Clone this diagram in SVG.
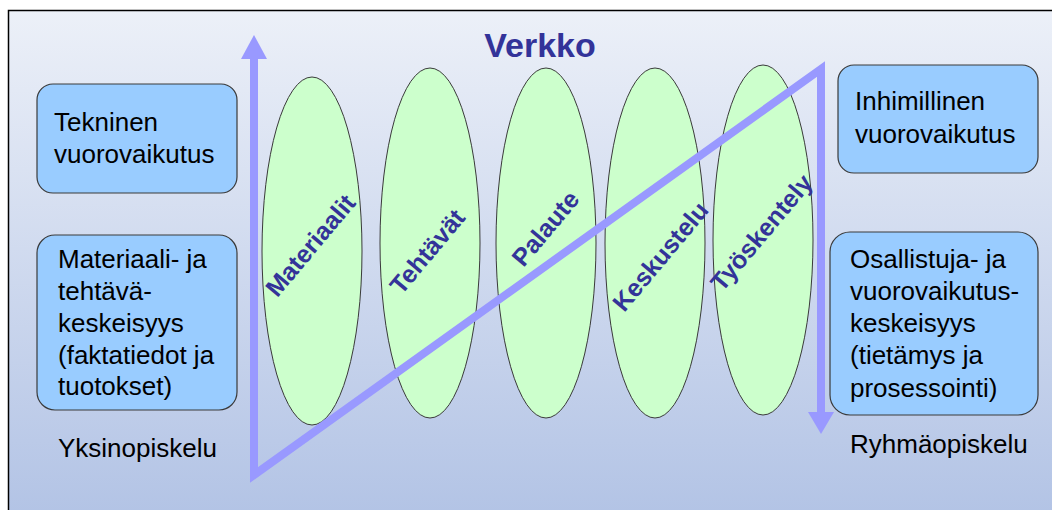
<svg xmlns="http://www.w3.org/2000/svg" width="1052" height="510" viewBox="0 0 1052 510">
<defs>
<linearGradient id="bg" x1="0" y1="0" x2="0" y2="1">
<stop offset="0" stop-color="#ECF0F8"/>
<stop offset="1" stop-color="#B2C3E5"/>
</linearGradient>
<style>
.box{fill:#99CCFF;stroke:#3A3A3A;stroke-width:1.2}
.ell{fill:#CCFFCC;stroke:#3A3A3A;stroke-width:1}
.t{font-family:"Liberation Sans",Arial,sans-serif;font-size:26px;fill:#000}
.lbl{font-family:"Liberation Sans",Arial,sans-serif;font-size:25px;font-weight:bold;fill:#333399;text-anchor:middle}
.arr{fill:#9999FF}
</style>
</defs>
<rect x="0" y="0" width="1052" height="510" fill="#FFFFFF"/>
<rect x="8.5" y="10.5" width="1050" height="510" fill="url(#bg)" stroke="#000" stroke-width="1.5"/>
<text x="540" y="57" font-family="Liberation Sans, Arial, sans-serif" font-size="34" font-weight="bold" fill="#333399" text-anchor="middle">Verkko</text>

<g id="ellipse-materiaalit"><ellipse class="ell" cx="312" cy="251" rx="50" ry="174"/></g>
<g id="ellipse-tehtavat"><ellipse class="ell" cx="430" cy="243" rx="50" ry="175"/></g>
<g id="ellipse-palaute"><ellipse class="ell" cx="546" cy="243" rx="50" ry="175"/></g>
<g id="ellipse-keskustelu"><ellipse class="ell" cx="655" cy="243" rx="50" ry="175"/></g>
<g id="ellipse-tyoskentely"><ellipse class="ell" cx="763" cy="240" rx="50" ry="175"/></g>

<g id="connectors">
<polyline points="254,58 254,475 821,69 821,413" fill="none" stroke="#9999FF" stroke-width="8" stroke-linejoin="miter"/>
<polygon class="arr" points="254,35 241,59 267,59"/>
<polygon class="arr" points="821,434 808,412 834,412"/>
</g>

<text class="lbl" transform="translate(317,251) rotate(-50)">Materiaalit</text>
<text class="lbl" transform="translate(434,257) rotate(-50)">Tehtävät</text>
<text class="lbl" transform="translate(552,234) rotate(-50)">Palaute</text>
<text class="lbl" transform="translate(667,262) rotate(-50)">Keskustelu</text>
<text class="lbl" transform="translate(768,238) rotate(-50)">Työskentely</text>

<g id="box-tekninen">
<rect class="box" x="37" y="84" width="200" height="109" rx="16"/>
<text class="t" x="54" y="131">Tekninen</text>
<text class="t" x="54" y="163">vuorovaikutus</text>
</g>
<g id="box-materiaali">
<rect class="box" x="37" y="235" width="200" height="175" rx="18"/>
<text class="t" x="58" y="268">Materiaali- ja</text>
<text class="t" x="58" y="300">tehtävä-</text>
<text class="t" x="58" y="332">keskeisyys</text>
<text class="t" x="58" y="364">(faktatiedot ja</text>
<text class="t" x="58" y="395">tuotokset)</text>
</g>
<g id="label-yksinopiskelu"><text class="t" x="58" y="457">Yksinopiskelu</text></g>

<g id="box-inhimillinen">
<rect class="box" x="838" y="65" width="200" height="108" rx="16"/>
<text class="t" x="855" y="110">Inhimillinen</text>
<text class="t" x="855" y="143">vuorovaikutus</text>
</g>
<g id="box-osallistuja">
<rect class="box" x="830" y="232" width="208" height="183" rx="20"/>
<text class="t" x="850" y="268">Osallistuja- ja</text>
<text class="t" x="850" y="300">vuorovaikutus-</text>
<text class="t" x="850" y="332">keskeisyys</text>
<text class="t" x="850" y="364">(tietämys ja</text>
<text class="t" x="850" y="397">prosessointi)</text>
</g>
<g id="label-ryhmaopiskelu"><text class="t" x="850" y="453">Ryhmäopiskelu</text></g>
</svg>
